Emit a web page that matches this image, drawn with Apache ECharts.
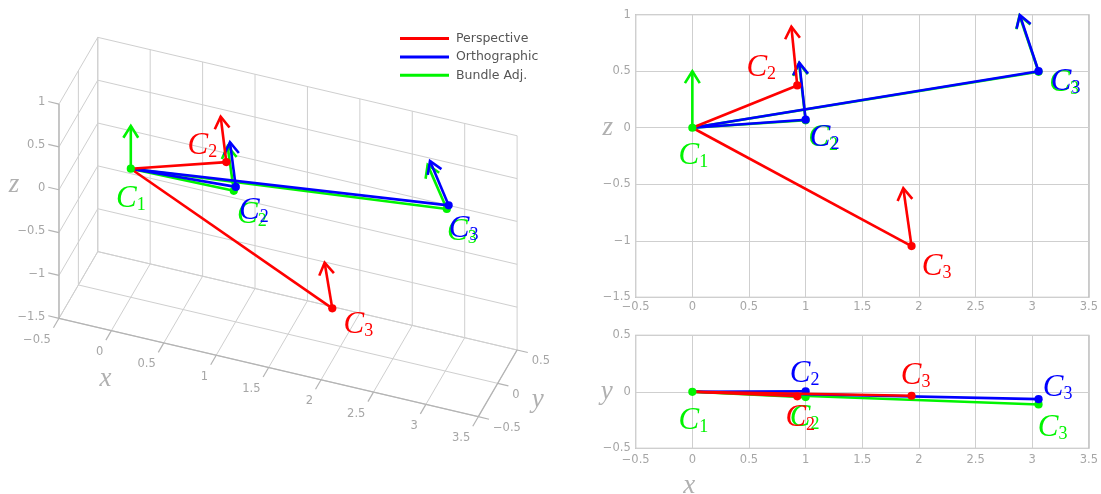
<!DOCTYPE html>
<html><head><meta charset="utf-8">
<script src="https://cdn.jsdelivr.net/npm/echarts@6/dist/echarts.min.js"></script>
<style>html,body{margin:0;padding:0;background:#fff}#c{width:1101px;height:494px}</style>
</head><body><div id="c"></div>
<script>
// ---------------- data ----------------
const seriesNames = ['Perspective', 'Orthographic', 'Bundle Adj.'];
const cameraLabels = ['1', '2', '3'];
// camera centres [x, y, z]
const perspCenters  = [[0, 0, 0], [0.926, -0.040, 0.374], [1.935, -0.035, -1.047]];
const orthoCenters  = [[0, 0, 0], [1.000,  0.005, 0.071], [3.056, -0.065, 0.500]];
const bundleCenters = [[0, 0, 0], [1.000, -0.047, 0.066], [3.056, -0.112, 0.495]];
// camera "up" vectors [dx, dy, dz]
const perspUp  = [[0, 0, 0.5], [-0.052, -0.005, 0.520], [-0.073, 0.000, 0.512]];
const orthoUp  = [[0, 0, 0.5], [-0.056,  0.000, 0.505], [-0.165, -0.035, 0.497]];
const bundleUp = [[0, 0, 0.5], [-0.058, -0.003, 0.505], [-0.168, -0.040, 0.497]];
// axis ticks
const xTicks = [-0.5, 0, 0.5, 1, 1.5, 2, 2.5, 3, 3.5];
const yTicks = [-0.5, 0, 0.5];
const zTicks = [-1.5, -1, -0.5, 0, 0.5, 1];

// ---------------- style ----------------
const RED = '#ff0000', BLUE = '#0000ff', GREEN = '#00f400';
const GRIDC = '#cfcfcf', AXC = '#b4b4b4', TXT = '#a6a6a6', TITLE = '#b0b0b0';
const LW = 2.6, DOT = 4.1;
const W = 1101, H = 494;

// 3D view projection (orthographic view of the box)
const P0 = [130.8, 168.7], EX = [104.83, 24.6], EY = [38.8, -66.7], EZ = [0, -85.7];
function proj(p) {
  return [P0[0] + p[0] * EX[0] + p[1] * EY[0] + p[2] * EZ[0],
          P0[1] + p[0] * EX[1] + p[1] * EY[1] + p[2] * EZ[1]];
}
const VIEWS = {
  v3: { idx: 0, map: proj, arrows: true },
  xz: { idx: 1, map: p => [p[0], p[2]], arrows: true },
  xy: { idx: 2, map: p => [p[0], p[1]], arrows: false }
};
// label offsets (pixels) per view / series / camera
const LABEL_OFF = {
  v3: { C1: [0, 30], p: [null, [-24, -16], [26, 16]], o: [null, [18, 24], [15, 23]], b: [null, [18, 24], [15, 23]] },
  xz: { C1: [1, 28], p: [null, [-36, -18], [25, 21]], o: [null, [19, 18], [27, 11]], b: [null, [17.5, 18], [25.5, 11]] },
  xy: { C1: [1, 29], p: [null, [3, 22], [4, -20]], o: [null, [-1, -17], [19, -11]], b: [null, [-1, 21], [14, 23]] }
};

function fmt(v) { return String(v).replace('-', '\u2212'); }
function add(a, b) { return [a[0] + b[0], a[1] + b[1], a[2] + b[2]]; }
function richFor(color) {
  return {
    c: { fontFamily: 'Liberation Serif', fontStyle: 'italic', fontSize: 31, lineHeight: 31, fill: color },
    s: { fontFamily: 'Liberation Serif', fontSize: 18, lineHeight: 18, verticalAlign: 'bottom', fill: color }
  };
}
function labelEl(pt, off, sub, color) {
  return { type: 'text', x: pt[0] + off[0], y: pt[1] + off[1],
    style: { text: '{c|C}{s|' + sub + '}', rich: richFor(color), align: 'center', verticalAlign: 'middle', fill: color } };
}
function arrowEls(b, t, color) {
  const dx = t[0] - b[0], dy = t[1] - b[1], L = Math.hypot(dx, dy) || 1;
  const ux = dx / L, uy = dy / L, a = 32 * Math.PI / 180, h = 14, c = Math.cos(a), s = Math.sin(a);
  const w1 = [t[0] - h * (ux * c - uy * s), t[1] - h * (ux * s + uy * c)];
  const w2 = [t[0] - h * (ux * c + uy * s), t[1] - h * (-ux * s + uy * c)];
  return [
    { type: 'line', shape: { x1: b[0], y1: b[1], x2: t[0], y2: t[1] }, style: { stroke: color, lineWidth: LW } },
    { type: 'polyline', shape: { points: [w1, t, w2] }, style: { stroke: color, lineWidth: LW, fill: null } }
  ];
}

function camSeries(vk, name, key, centers, ups, color) {
  const v = VIEWS[vk];
  return {
    type: 'custom', name: name, xAxisIndex: v.idx, yAxisIndex: v.idx, silent: true, z: 5,
    itemStyle: { color: color }, animation: false,
    data: centers.slice(1).map((c, k) => [k + 1, 0]),
    renderItem: function (params, api) {
      const i = api.value(0);
      const c0 = api.coord(v.map(centers[0]));
      const ci = api.coord(v.map(centers[i]));
      const ch = [{ type: 'line', shape: { x1: c0[0], y1: c0[1], x2: ci[0], y2: ci[1] }, style: { stroke: color, lineWidth: LW } }];
      if (v.arrows) {
        const tip = api.coord(v.map(add(centers[i], ups[i])));
        arrowEls(ci, tip, color).forEach(e => ch.push(e));
      }
      ch.push({ type: 'circle', shape: { cx: ci[0], cy: ci[1], r: DOT }, style: { fill: color } });
      ch.push(labelEl(ci, LABEL_OFF[vk][key][i], cameraLabels[i], color));
      return { type: 'group', children: ch };
    }
  };
}
function originSeries(vk) {
  const v = VIEWS[vk];
  return {
    type: 'custom', name: seriesNames[2], xAxisIndex: v.idx, yAxisIndex: v.idx, silent: true, z: 6,
    itemStyle: { color: GREEN }, animation: false, data: [[0, 0]],
    renderItem: function (params, api) {
      const c = api.coord(v.map(bundleCenters[0]));
      const ch = [];
      if (v.arrows) arrowEls(c, api.coord(v.map(add(bundleCenters[0], bundleUp[0]))), GREEN).forEach(e => ch.push(e));
      ch.push({ type: 'circle', shape: { cx: c[0], cy: c[1], r: DOT }, style: { fill: GREEN } });
      ch.push(labelEl(c, LABEL_OFF[vk].C1, cameraLabels[0], GREEN));
      return { type: 'group', children: ch };
    }
  };
}
function titleEl(pt, off, t) {
  return { type: 'text', x: pt[0] + off[0], y: pt[1] + off[1],
    style: { text: t, fontFamily: 'Liberation Serif', fontStyle: 'italic', fontSize: 27, fill: TITLE, align: 'center', verticalAlign: 'middle' } };
}
function boxSeries() {
  return {
    type: 'custom', xAxisIndex: 0, yAxisIndex: 0, silent: true, z: 1, animation: false, data: [[0, 0]],
    renderItem: function (params, api) {
      const P = p => api.coord(proj(p));
      const ch = [];
      const seg = (a, b, col, w) => { const A = P(a), B = P(b); ch.push({ type: 'line', shape: { x1: A[0], y1: A[1], x2: B[0], y2: B[1] }, style: { stroke: col, lineWidth: w } }); };
      const x0 = xTicks[0], x1 = xTicks[xTicks.length - 1], y0 = yTicks[0], y1 = yTicks[yTicks.length - 1], z0 = zTicks[0], z1 = zTicks[zTicks.length - 1];
      xTicks.forEach(x => { seg([x, y1, z0], [x, y1, z1], GRIDC, 1); seg([x, y0, z0], [x, y1, z0], GRIDC, 1); });
      zTicks.forEach(z => { seg([x0, y1, z], [x1, y1, z], GRIDC, 1); seg([x0, y0, z], [x0, y1, z], GRIDC, 1); });
      yTicks.forEach(y => { seg([x0, y, z0], [x0, y, z1], GRIDC, 1); seg([x0, y, z0], [x1, y, z0], GRIDC, 1); });
      seg([x0, y0, z0], [x0, y0, z1], AXC, 1.3);
      seg([x0, y0, z0], [x1, y0, z0], AXC, 1.3);
      seg([x1, y0, z0], [x1, y1, z0], AXC, 1.3);
      const n = d => { const L = Math.hypot(d[0], d[1]); return [d[0] / L, d[1] / L]; };
      const dNX = n([-EX[0], -EX[1]]), dPX = n(EX), dNY = n([-EY[0], -EY[1]]);
      const tick = (A, d) => ch.push({ type: 'line', shape: { x1: A[0], y1: A[1], x2: A[0] + d[0] * 11, y2: A[1] + d[1] * 11 }, style: { stroke: AXC, lineWidth: 1.2 } });
      const lab = (x, y, t, al) => ch.push({ type: 'text', x: x, y: y, style: { text: t, fontFamily: 'DejaVu Sans', fontSize: 11.5, fill: TXT, align: al, verticalAlign: 'middle' } });
      zTicks.forEach(z => { const A = P([x0, y0, z]); tick(A, dNX); lab(A[0] + dNX[0] * 14, A[1] + dNX[1] * 14 + 1.5, fmt(z), 'right'); });
      xTicks.forEach(x => { const A = P([x, y0, z0]); tick(A, dNY); lab(A[0] + dNY[0] * 25 + 4.5, A[1] + dNY[1] * 25, fmt(x), 'right'); });
      yTicks.forEach(y => { const A = P([x1, y, z0]); tick(A, dPX); lab(A[0] + dPX[0] * 14 + 1, A[1] + dPX[1] * 14 + 8, fmt(y), 'left'); });
      ch.push(titleEl(P([x0, y0, 0]), [-45, -5], 'z'));
      ch.push(titleEl(P([0, y0, z0]), [-6, 48], 'x'));
      ch.push(titleEl(P([x1, 0, z0]), [40, 17], 'y'));
      return { type: 'group', children: ch };
    }
  };
}
function titles2D() {
  return [
    { type: 'custom', xAxisIndex: 1, yAxisIndex: 1, silent: true, z: 2, animation: false, data: [[0, 0]],
      renderItem: (p, api) => ({ type: 'group', children: [titleEl(api.coord([xTicks[0], 0]), [-28, 0], 'z')] }) },
    { type: 'custom', xAxisIndex: 2, yAxisIndex: 2, silent: true, z: 2, animation: false, data: [[0, 0]],
      renderItem: (p, api) => ({ type: 'group', children: [
        titleEl(api.coord([xTicks[0], 0]), [-29, 0], 'y'),
        titleEl(api.coord([0, yTicks[0]]), [-3, 38], 'x')] }) }
  ];
}

const axLabel = (m) => ({ color: TXT, fontFamily: 'DejaVu Sans', fontSize: 11.5, margin: m, formatter: v => fmt(v) });
const valX = (gi, m) => ({ type: 'value', gridIndex: gi, min: -0.5, max: 3.5, interval: 0.5,
  axisLine: { show: false }, axisTick: { show: false }, axisLabel: axLabel(m), splitLine: { lineStyle: { color: GRIDC, width: 1 } } });
const valY = (gi, mn, mx) => ({ type: 'value', gridIndex: gi, min: mn, max: mx, interval: 0.5,
  axisLine: { show: false }, axisTick: { show: false }, axisLabel: axLabel(5), splitLine: { lineStyle: { color: GRIDC, width: 1 } } });

const series = [boxSeries()];
['v3', 'xz', 'xy'].forEach(vk => {
  series.push(camSeries(vk, seriesNames[2], 'b', bundleCenters, bundleUp, GREEN));
  series.push(camSeries(vk, seriesNames[1], 'o', orthoCenters, orthoUp, BLUE));
  series.push(camSeries(vk, seriesNames[0], 'p', perspCenters, perspUp, RED));
  series.push(originSeries(vk));
});
titles2D().forEach(s => series.push(s));

const option = {
  animation: false,
  backgroundColor: '#ffffff',
  textStyle: { fontFamily: 'DejaVu Sans' },
  legend: {
    data: seriesNames, orient: 'vertical', left: 395, top: 27, itemGap: 5.4,
    icon: 'rect', itemWidth: 49, itemHeight: 3, selectedMode: false,
    textStyle: { color: '#555555', fontSize: 12.5, fontFamily: 'DejaVu Sans', padding: [0, 0, 0, 2] }
  },
  grid: [
    { left: 0, top: 0, width: W, height: H, show: false },
    { left: 635.7, top: 14.7, width: 453.3, height: 282.6, show: true, borderColor: '#b8b8b8', borderWidth: 1.2, z: 0 },
    { left: 635.7, top: 335.3, width: 453.3, height: 113, show: true, borderColor: '#b8b8b8', borderWidth: 1.2, z: 0 }
  ],
  xAxis: [
    { type: 'value', gridIndex: 0, min: 0, max: W, show: false },
    valX(1, 4), valX(2, 6)
  ],
  yAxis: [
    { type: 'value', gridIndex: 0, min: 0, max: H, inverse: true, show: false },
    valY(1, -1.5, 1), valY(2, -0.5, 0.5)
  ],
  series: series
};
const chart = echarts.init(document.getElementById('c'), null, { renderer: 'canvas' });
chart.setOption(option);
</script></body></html>
